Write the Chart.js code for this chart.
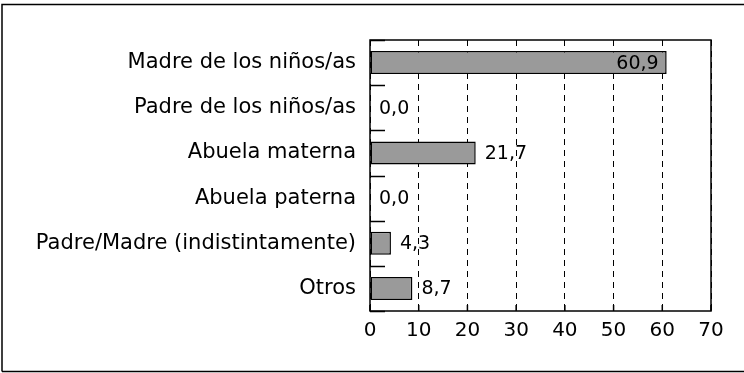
<!DOCTYPE html>
<html>
<head>
<meta charset="utf-8">
<script src="https://cdn.jsdelivr.net/npm/chart.js@4/dist/chart.umd.min.js"></script>
<style>
  html, body { margin: 0; padding: 0; background: #fff; }
  #wrap { width: 744px; height: 373px; }
</style>
</head>
<body>
<div id="wrap"><canvas id="c" width="744" height="373"></canvas></div>
<script>
// Who takes care of the children — percentages
const categories = [
  'Madre de los niños/as',
  'Padre de los niños/as',
  'Abuela materna',
  'Abuela paterna',
  'Padre/Madre (indistintamente)',
  'Otros'
];
const values = [60.9, 0.0, 21.7, 0.0, 4.3, 8.7];
const tickValues = [0, 10, 20, 30, 40, 50, 60, 70];

const FONT = "'DejaVu Sans', 'Liberation Sans', sans-serif";
const fmt = v => v.toFixed(1).replace('.', ',');

// Solid plot frame, inward ticks on both axes and the outer border of the figure
const framePlugin = {
  id: 'frame',
  beforeDraw(chart) {
    const ctx = chart.ctx;
    ctx.save();
    ctx.strokeStyle = '#000';
    ctx.lineWidth = 1.5;
    ctx.beginPath();
    ctx.moveTo(2, 371.5);
    ctx.lineTo(2, 4.5);
    ctx.lineTo(744, 4.5);
    ctx.moveTo(2, 371.5);
    ctx.lineTo(744, 371.5);
    ctx.stroke();
    ctx.restore();
  },
  afterDatasetsDraw(chart) {
    const { ctx, chartArea: a, scales } = chart;
    const x = scales.x, y = scales.y;
    ctx.save();
    ctx.setLineDash([]);
    ctx.strokeStyle = '#000';
    ctx.lineWidth = 1.5;
    ctx.strokeRect(a.left, a.top, a.right - a.left, a.bottom - a.top);
    // category boundary ticks on the left axis
    const band = (a.bottom - a.top) / categories.length;
    ctx.beginPath();
    for (let i = 0; i <= categories.length; i++) {
      const yy = Math.round(a.top + i * band) + 0.5;
      ctx.moveTo(a.left, yy);
      ctx.lineTo(a.left + 15, yy);
    }
    // value ticks on the bottom axis
    tickValues.forEach(v => {
      const xx = x.getPixelForValue(v);
      ctx.moveTo(xx, a.bottom);
      ctx.lineTo(xx, a.bottom - 6);
    });
    ctx.stroke();

    // value labels
    const meta = chart.getDatasetMeta(0);
    ctx.fillStyle = '#000';
    ctx.font = "19px " + FONT;
    ctx.textBaseline = 'middle';
    meta.data.forEach((bar, i) => {
      const v = values[i];
      if (v >= 50) {
        ctx.textAlign = 'right';
        ctx.fillText(fmt(v), bar.x - 8, bar.y + 1);
      } else {
        ctx.textAlign = 'left';
        ctx.fillText(fmt(v), bar.x + 9, bar.y + 1);
      }
    });
    ctx.restore();
  }
};

new Chart(document.getElementById('c'), {
  type: 'bar',
  data: {
    labels: categories,
    datasets: [{
      data: values,
      backgroundColor: '#9a9a9a',
      borderColor: '#000',
      borderWidth: 1.5,
      borderSkipped: false,
      barPercentage: 0.51,
      categoryPercentage: 1.0
    }]
  },
  options: {
    indexAxis: 'y',
    responsive: false,
    animation: false,
    devicePixelRatio: 1,
    layout: { padding: { left: 0, top: 40, right: 33, bottom: 0 } },
    plugins: {
      legend: { display: false },
      tooltip: { enabled: false }
    },
    scales: {
      x: {
        type: 'linear',
        min: 0,
        max: 70,
        afterBuildTicks(scale) { scale.ticks = tickValues.map(v => ({ value: v })); },
        afterFit(scale) { scale.height = 62; },
        ticks: {
          color: '#000',
          font: { family: FONT, size: 20 },
          padding: 8,
          maxRotation: 0
        },
        grid: { color: '#000', lineWidth: 1, drawTicks: false },
        border: { display: false, dash: [6, 5] }
      },
      y: {
        afterFit(scale) { scale.width = 370; },
        ticks: {
          color: '#000',
          font: { family: FONT, size: 21 },
          padding: 14
        },
        grid: { display: false, drawTicks: false },
        border: { display: false }
      }
    }
  },
  plugins: [framePlugin]
});
</script>
</body>
</html>
